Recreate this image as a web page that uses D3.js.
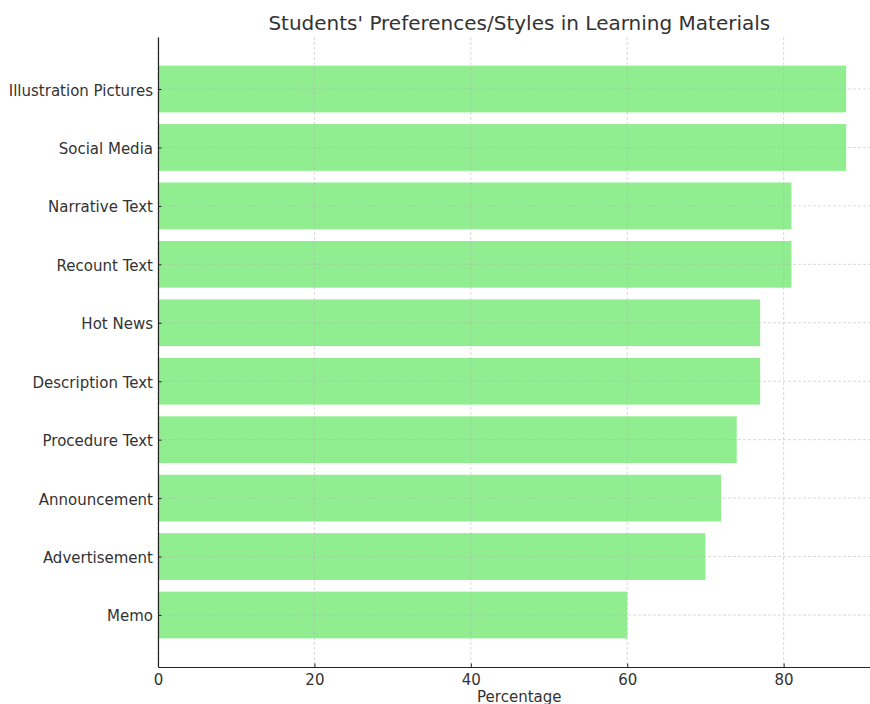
<!DOCTYPE html>
<html><head><meta charset="utf-8">
<script src="https://cdn.jsdelivr.net/npm/d3@7"></script>
<style>body{margin:0;background:#fff;}svg{display:block;font-family:"DejaVu Sans",sans-serif;}</style>
</head><body>
<svg id="chart" width="870" height="704"></svg>
<script>
const categories = ["Memo","Advertisement","Announcement","Procedure Text","Description Text","Hot News","Recount Text","Narrative Text","Social Media","Illustration Pictures"];
const values = [60,70,72,74,77,77,81,81,88,88];
const xTicks = [0,20,40,60,80];
const title = "Students' Preferences/Styles in Learning Materials";
const xLabel = "Percentage";

(function(){
const svg = d3.select("#chart");
const pL = 158, pR = 880.6, pT = 37, pB = 667;
const x = d3.scaleLinear().domain([0, 92.4]).range([pL, pR]);
const y = d3.scaleLinear().domain([-0.89, 9.89]).range([pB, pT]);
const textCol = "#333";

// bars
svg.append("g").selectAll("rect").data(values).join("rect")
  .attr("x", x(0))
  .attr("y", (d,i) => y(i + 0.4))
  .attr("width", d => x(d) - x(0))
  .attr("height", (d,i) => y(i - 0.4) - y(i + 0.4))
  .attr("fill", "#90ee90");

// grid
const grid = svg.append("g").attr("stroke", "#b0b0b0").attr("stroke-opacity", 0.6)
  .attr("stroke-width", 0.8).attr("stroke-dasharray", "3,2");
grid.selectAll("line.v").data(xTicks).join("line").attr("class","v")
  .attr("x1", d => x(d)).attr("x2", d => x(d)).attr("y1", pT).attr("y2", pB);
grid.selectAll("line.h").data(categories).join("line").attr("class","h")
  .attr("x1", pL).attr("x2", pR).attr("y1", (d,i) => y(i)).attr("y2", (d,i) => y(i));

// axes
const xAxis = d3.axisBottom(x).tickValues(xTicks).tickSizeInner(-3.5).tickSizeOuter(0).tickPadding(7);
const gx = svg.append("g").attr("transform", `translate(0,${pB})`).call(xAxis);
gx.select(".domain").attr("stroke", "#222").attr("stroke-width", 1.2);
gx.selectAll(".tick line").attr("stroke", "#222");
gx.selectAll(".tick text").attr("fill", textCol).attr("font-size", "15px").attr("font-family", "DejaVu Sans").attr("dy","0.71em");

const yAxis = d3.axisLeft(y).tickValues(d3.range(categories.length)).tickFormat(i => categories[i])
  .tickSizeInner(-3.5).tickSizeOuter(0).tickPadding(5);
const gy = svg.append("g").attr("transform", `translate(${pL},0)`).call(yAxis);
gy.select(".domain").attr("stroke", "#222").attr("stroke-width", 1.2);
gy.selectAll(".tick line").attr("stroke", "#222");
gy.selectAll(".tick text").attr("fill", textCol).attr("font-size", "15px").attr("font-family", "DejaVu Sans").attr("dy","0.4em");

// labels
svg.append("text").attr("x", (pL + pR)/2).attr("y", 30).attr("text-anchor","middle")
  .attr("font-size","20px").attr("fill", textCol).text(title);
svg.append("text").attr("x", (pL + pR)/2).attr("y", 702).attr("text-anchor","middle")
  .attr("font-size","15px").attr("fill", textCol).text(xLabel);
})();
</script>
</body></html>
